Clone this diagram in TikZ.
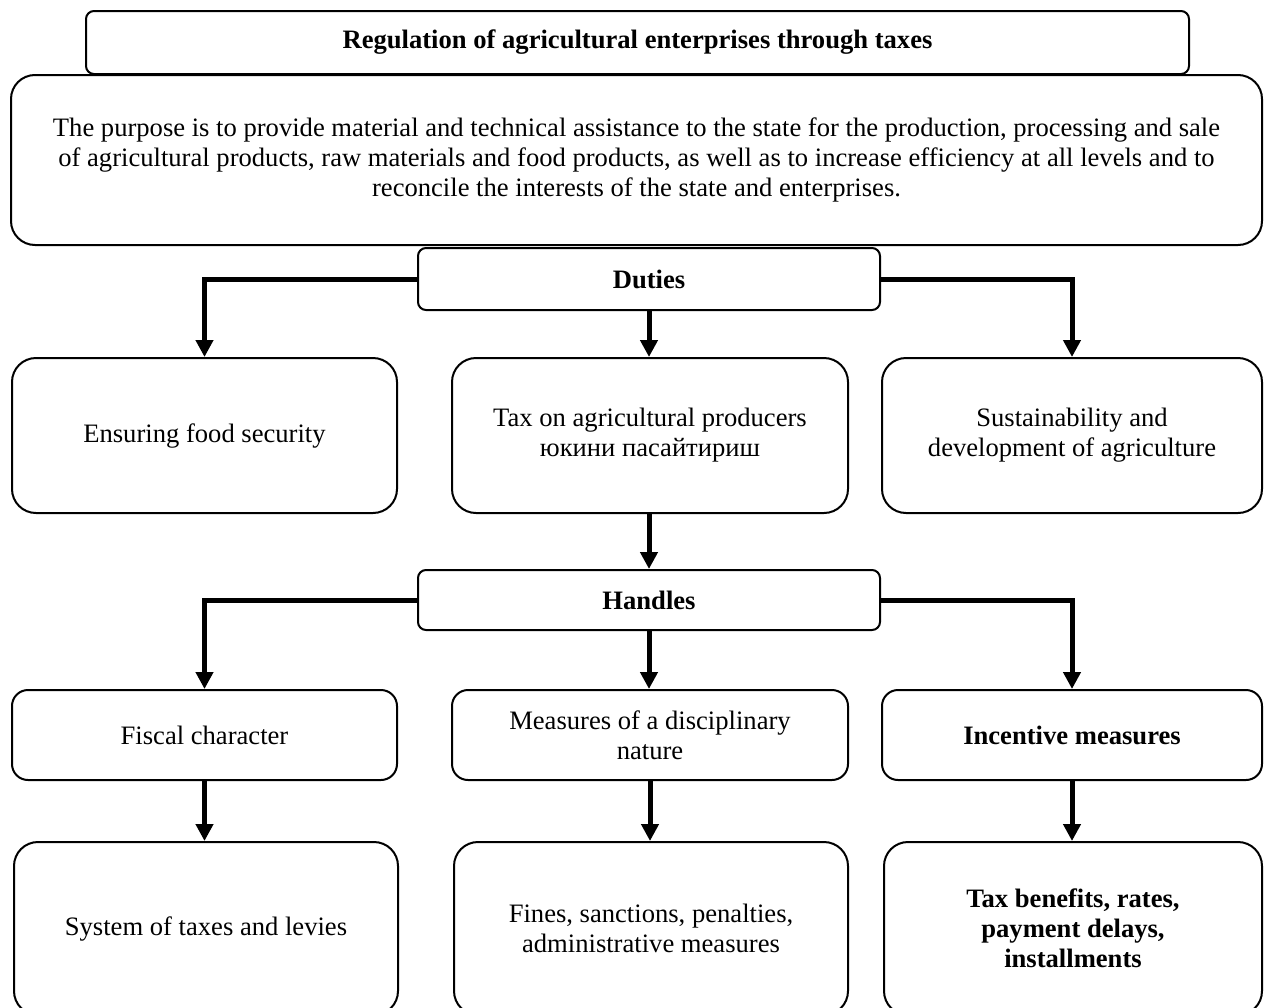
\documentclass[tikz,border=0pt]{standalone}
\usepackage{fontspec}
\setmainfont{Liberation Serif}
\usetikzlibrary{arrows.meta}
\tikzset{
  box/.style={draw,line width=1pt,rounded corners=#1,align=center,inner sep=0pt},
  box/.default=12pt,
  link/.style={line width=2.5pt,-{Triangle[width=8.5pt,length=8.5pt]}},
}
\begin{document}
\begin{tikzpicture}[x=0.5pt,y=-0.5pt,font=\fontsize{13.3}{15}\selectfont]
\useasboundingbox (0,0) rectangle (1264,1007);
% header
\node[box=4pt,minimum width=551.5pt,minimum height=31.5pt](title)at(637.5,42.5){\textbf{Regulation of agricultural enterprises through taxes}};
\node[box,minimum width=625.5pt,minimum height=85pt](purpose)at(636.5,160){The purpose is to provide material and technical assistance to the state for the production, processing and sale\\of agricultural products, raw materials and food products, as well as to increase efficiency at all levels and to\\reconcile the interests of the state and enterprises.};
% duties
\node[box=4pt,minimum width=231pt,minimum height=31pt](duties)at(649,279){\textbf{Duties}};
\node[box,minimum width=192.5pt,minimum height=77.5pt](food)at(204.5,435.5){Ensuring food security};
\node[box,minimum width=198pt,minimum height=77.5pt](producers)at(650,435.5){Tax on agricultural producers\\юкини пасайтириш};
\node[box,minimum width=190pt,minimum height=77.5pt](sustain)at(1072,435.5){Sustainability and\\development of agriculture};
\draw[link](duties.west)-|(food.north);
\draw[link](duties.south)--(duties.south|-producers.north);
\draw[link](duties.east)-|(sustain.north);
% handles
\node[box=4pt,minimum width=231pt,minimum height=30pt](handles)at(649,600){\textbf{Handles}};
\draw[link](handles.north|-producers.south)--(handles.north);
\node[box=8pt,minimum width=192.5pt,minimum height=45pt](fiscal)at(204.5,735){Fiscal character};
\node[box=8pt,minimum width=198pt,minimum height=45pt](discipline)at(650,735){Measures of a disciplinary\\nature};
\node[box=8pt,minimum width=190pt,minimum height=45pt](incentive)at(1072,735){\textbf{Incentive measures}};
\draw[link](handles.west)-|(fiscal.north);
\draw[link](handles.south)--(handles.south|-discipline.north);
\draw[link](handles.east)-|(incentive.north);
% instruments
\node[box,minimum width=192pt,minimum height=86.5pt](levies)at(206,928.5){System of taxes and levies};
\node[box,minimum width=197pt,minimum height=86.5pt](fines)at(651,928.5){Fines, sanctions, penalties,\\administrative measures};
\node[box,minimum width=189pt,minimum height=86.5pt](benefits)at(1073,928.5){\textbf{Tax benefits, rates,}\\\textbf{payment delays,}\\\textbf{installments}};
\foreach \u/\v in {fiscal/levies,discipline/fines,incentive/benefits}
  \draw[link](\u.south)--(\u.south|-\v.north);
\end{tikzpicture}
\end{document}
